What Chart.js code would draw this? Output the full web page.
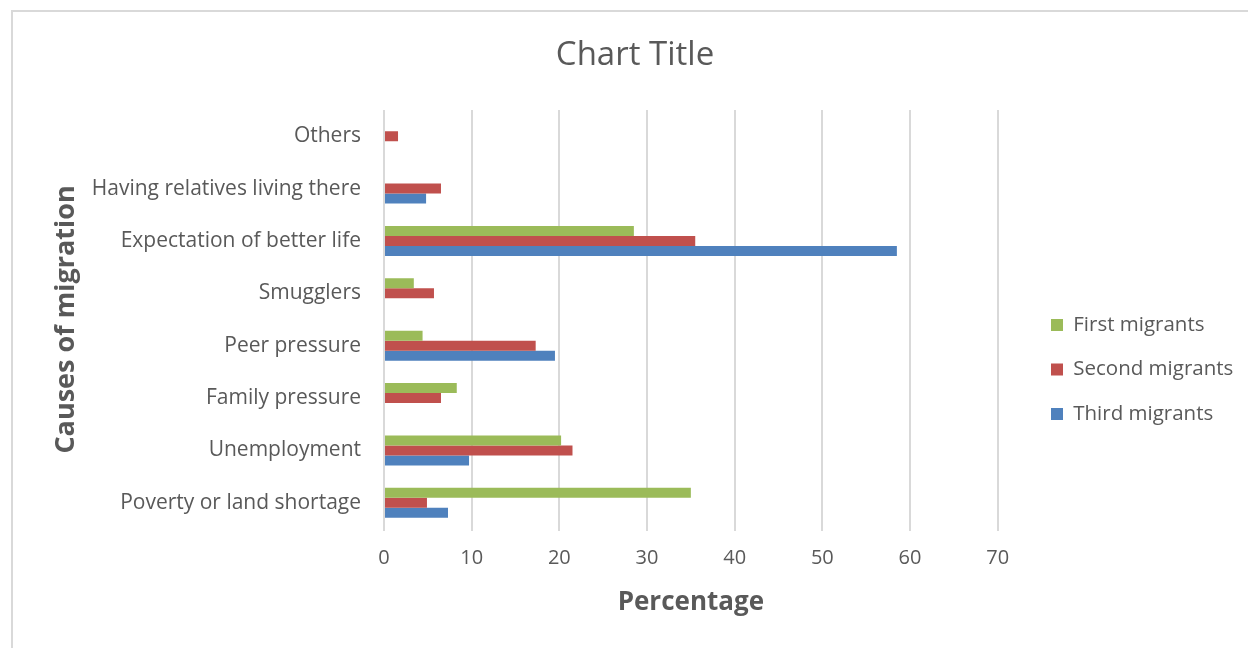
<!DOCTYPE html>
<html>
<head>
<meta charset="utf-8">
<script src="https://cdn.jsdelivr.net/npm/chart.js@4.4.1/dist/chart.umd.min.js"></script>
<style>
  html, body { margin: 0; padding: 0; background: #ffffff; overflow: hidden; }
  #frame {
    position: absolute; left: 11px; top: 10px; width: 1260px; height: 660px;
    border: 2px solid #d9d9d9; box-sizing: border-box;
  }
  #wrap { position: absolute; left: 0; top: 0; width: 1248px; height: 648px; }
</style>
</head>
<body>
<div id="frame"></div>
<div id="wrap"><canvas id="chart" width="1248" height="648"></canvas></div>
<script>
// Causes of migration, listed top to bottom as drawn
const categories = [
  'Others',
  'Having relatives living there',
  'Expectation of better life',
  'Smugglers',
  'Peer pressure',
  'Family pressure',
  'Unemployment',
  'Poverty or land shortage'
];

// Share of respondents (%) per migrant group
const firstMigrants  = [0,   0,   28.5, 3.4, 4.4,  8.3, 20.2, 35.0];
const secondMigrants = [1.6, 6.5, 35.5, 5.7, 17.3, 6.5, 21.5, 4.9];
const thirdMigrants  = [0,   4.8, 58.5, 0,   19.5, 0,   9.7,  7.3];

const seriesNames = ['First migrants', 'Second migrants', 'Third migrants'];
const xTicks = [0, 10, 20, 30, 40, 50, 60, 70];

const TEXT = '#595959';
const FONT = '"Open Sans"';

// Centres the title on the whole frame and sets the legend column apart from the plot
const blockNudge = {
  id: 'blockNudge',
  afterLayout(chart) {
    const t = chart.titleBlock;
    if (t) {
      const tx = 635 - (t.left + t.right) / 2;
      t.left += tx; t.right += tx;
    }
    const lg = chart.legend;
    if (lg) {
      const pad = lg.options.labels.padding;
      const dx = 1051 - (lg.left + pad);
      const dy = 369.5 - (lg.top + lg.bottom) / 2;
      lg.left += dx; lg.right += dx;
      lg.top += dy; lg.bottom += dy;
    }
  }
};

new Chart(document.getElementById('chart'), {
  type: 'bar',
  data: {
    labels: categories,
    datasets: [
      { label: seriesNames[0], data: firstMigrants,  backgroundColor: '#9BBB59' },
      { label: seriesNames[1], data: secondMigrants, backgroundColor: '#C0504D' },
      { label: seriesNames[2], data: thirdMigrants,  backgroundColor: '#4F81BD' }
    ]
  },
  options: {
    indexAxis: 'y',
    responsive: false,
    animation: false,
    datasets: {
      bar: { barPercentage: 1.0, categoryPercentage: 0.573, borderWidth: 0 }
    },
    layout: { padding: { left: 12, right: 34, top: 0, bottom: 23 } },
    plugins: {
      tooltip: { enabled: false },
      title: {
        display: true,
        text: 'Chart Title',
        color: TEXT,
        font: { family: FONT, size: 33, weight: 'normal' },
        padding: { top: 36, bottom: 34.4 }
      },
      legend: {
        position: 'right',
        align: 'center',
        labels: {
          color: TEXT,
          font: { family: FONT, size: 20.5 },
          boxWidth: 12,
          boxHeight: 12,
          padding: 24
        }
      }
    },
    scales: {
      x: {
        type: 'linear',
        min: 0,
        max: 70,
        afterBuildTicks(scale) { scale.ticks = xTicks.map(v => ({ value: v })); },
        afterFit(scale) { scale.height = 96; },
        grid: { color: '#d9d9d9', lineWidth: 2, drawTicks: true, tickLength: 2 },
        border: { display: false },
        ticks: { color: TEXT, font: { family: FONT, size: 20 }, padding: 15 },
        title: {
          display: true,
          text: 'Percentage',
          color: TEXT,
          font: { family: FONT, size: 26, weight: 'bold' },
          padding: { top: 0, bottom: 6.4 }
        }
      },
      y: {
        type: 'category',
        afterFit(scale) { scale.width = 372; },
        grid: { display: false, drawTicks: false },
        border: { display: false },
        ticks: { color: TEXT, font: { family: FONT, size: 21 }, padding: 23 },
        title: {
          display: true,
          text: 'Causes of migration',
          color: TEXT,
          font: { family: FONT, size: 27, weight: 'bold' },
          padding: { top: 37.8, bottom: 0 }
        }
      }
    }
  },
  plugins: [blockNudge]
});
</script>
</body>
</html>
